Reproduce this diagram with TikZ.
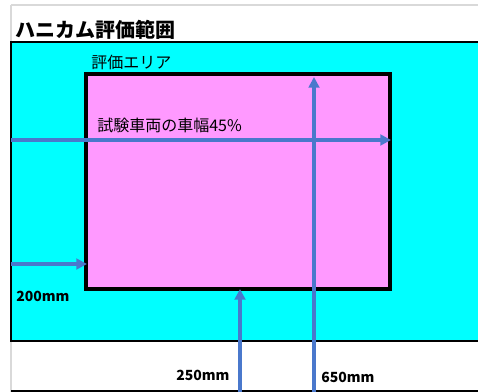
\documentclass[tikz,border=0pt]{standalone}
\usepackage{fontspec}
\setmainfont{Noto Sans CJK JP}
\usetikzlibrary{arrows.meta}
\definecolor{cyanfill}{HTML}{00FFFF}
\definecolor{pinkfill}{HTML}{FF99FF}
\definecolor{arrowblue}{HTML}{4A78CC}
\definecolor{gridgray}{HTML}{D9D9D9}
\tikzset{
  dimarrow/.style={draw=arrowblue, line width=3pt, -{Triangle[length=8pt,width=8pt]}},
  lbl/.style={inner sep=0pt, anchor=base west, text=black},
}
\begin{document}
\begin{tikzpicture}[x=0.75pt,y=-0.75pt]
\useasboundingbox (0,0) rectangle (478,392);
\fill[white] (0,0) rectangle (478,392);
% sheet grid lines
\draw[gridgray, line width=1pt] (11,5) -- (478,5);
\draw[gridgray, line width=1pt] (11,5) -- (11,392);
% honeycomb area
\node[lbl, font=\bfseries\fontsize{15}{15}\selectfont] (title) at (15,38) {ハニカム評価範囲};
\draw[black, line width=1.6pt, fill=cyanfill] (11,42) rectangle (484,341);
\draw[black, line width=1.4pt] (11,391) -- (478,391);
% evaluation area
\draw[black, line width=3pt, fill=pinkfill] (86,74) rectangle (390,289);
\node[lbl, font=\fontsize{12}{12}\selectfont] (area) at (91,69) {評価エリア};
\node[lbl, font=\fontsize{12}{12}\selectfont] (width) at (97,132) {試験車両の車幅45\%};
% coordinates
\coordinate (h1s) at (11,140);
\coordinate (h1e) at (391,140);
\coordinate (h2s) at (11,264);
\coordinate (h2e) at (87,264);
\coordinate (v1s) at (240,392);
\coordinate (v1e) at (240,289);
\coordinate (v2s) at (314,392);
\coordinate (v2e) at (314,77);
\draw[dimarrow] (h1s) -- (h1e);
\draw[dimarrow] (h2s) -- (h2e);
\draw[dimarrow] (v1s) -- (v1e);
\draw[dimarrow] (v2s) -- (v2e);
% labels
\node[lbl, font=\bfseries\fontsize{10.5}{10.5}\selectfont] (l200) at (16,301) {200mm};
\node[lbl, font=\bfseries\fontsize{10.5}{10.5}\selectfont] (l250) at (176,380) {250mm};
\node[lbl, font=\bfseries\fontsize{10.5}{10.5}\selectfont] (l650) at (321,382) {650mm};
\end{tikzpicture}
\end{document}
